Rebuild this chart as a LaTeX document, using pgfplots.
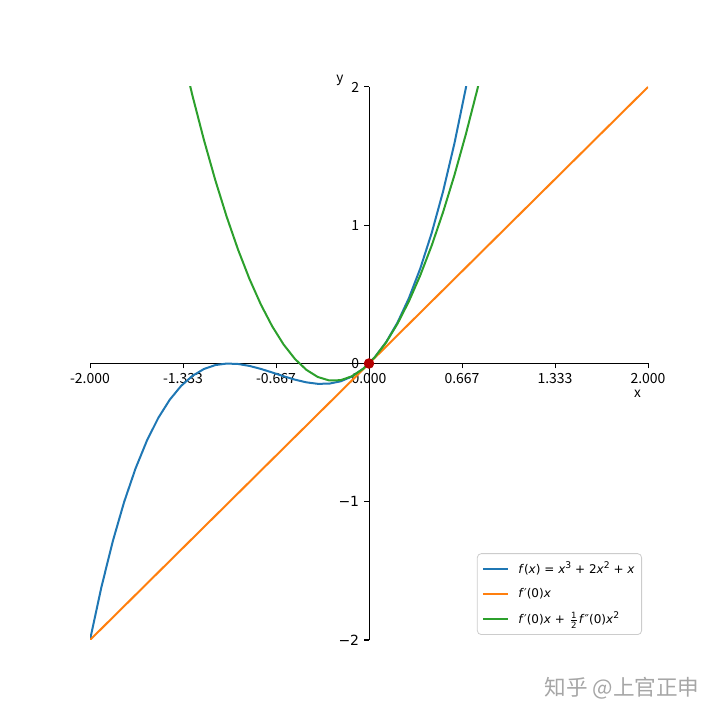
\documentclass[border=0pt]{standalone}
\usepackage{pgfplots}
\pgfplotsset{compat=1.18}
\usepackage{fontspec}
\setmainfont{Noto Sans CJK SC}
\newfontfamily\dejavu{DejaVu Sans}
\definecolor{tabblue}{HTML}{1F77B4}
\definecolor{taborange}{HTML}{FF7F0E}
\definecolor{tabgreen}{HTML}{2CA02C}
\definecolor{dotred}{HTML}{B40000}
\pgfplotstableread{
x f g
-2.000000 -2.000000 6.000000
-1.918367 -1.617946 5.441899
-1.836735 -1.285944 4.910454
-1.755102 -1.000722 4.405664
-1.673469 -0.759020 3.927530
-1.591837 -0.557574 3.476052
-1.510204 -0.393118 3.051229
-1.428571 -0.262391 2.653061
-1.346939 -0.162127 2.281550
-1.265306 -0.089062 1.936693
-1.183673 -0.039932 1.618492
-1.102041 -0.011475 1.326947
-1.020408 -0.000425 1.062057
-0.938776 -0.003519 0.823823
-0.857143 -0.017493 0.612245
-0.775510 -0.039082 0.427322
-0.693878 -0.065024 0.269054
-0.612245 -0.092053 0.137443
-0.530612 -0.116907 0.032486
-0.448980 -0.136321 -0.045814
-0.367347 -0.147031 -0.097459
-0.285714 -0.145773 -0.122449
-0.204082 -0.129283 -0.120783
-0.122449 -0.094297 -0.092462
-0.040816 -0.037552 -0.037484
0.040816 0.044216 0.044148
0.122449 0.154273 0.152437
0.204082 0.295880 0.287380
0.285714 0.472303 0.448980
0.367347 0.686806 0.637234
0.448980 0.942653 0.852145
0.530612 1.243105 1.093711
0.612245 1.591430 1.361933
0.693878 1.990888 1.656810
0.775510 2.444742 1.978343
0.857143 2.956268 2.326531
}\datatable
\newcommand{\iv}[1]{\textit{#1}}
\newcommand{\sups}[1]{\raisebox{0.45em}{\fontsize{4.6}{5}\selectfont #1}}
\newcommand{\half}{${\mbox{\dejavu\fontsize{4.3}{4.5}\selectfont 1}\above0.35pt\mbox{\dejavu\fontsize{4.3}{4.5}\selectfont 2}}$}
\begin{document}
\begin{tikzpicture}
\begin{axis}[
  name=ax,
  scale only axis,
  width=279pt, height=276.5pt,
  xmin=-2, xmax=2, ymin=-2, ymax=2,
  axis lines=middle,
  axis line style={-, line width=0.5pt, black},
  hide obscured x ticks=false,
  hide obscured y ticks=false,
  xtick={-2,-1.33333,-0.66667,0,0.66667,1.33333,2},
  xticklabels={-2.000,-1.333,-0.667,0.000,0.667,1.333,2.000},
  ytick={-2,-1,0,1,2},
  yticklabels={{\dejavu −2},{\dejavu −1},0,1,2},
  tick align=outside,
  major tick length=2.4pt,
  tick style={black, line width=0.5pt},
  tick label style={font=\fontsize{7}{8}\selectfont},
  xticklabel style={yshift=1pt},
  yticklabel style={xshift=1pt},
  xlabel={x}, ylabel={y},
  x label style={at={(axis description cs:1,0.5)}, anchor=north east, yshift=-10pt, font=\fontsize{6.8}{7.5}\selectfont},
  y label style={at={(axis description cs:0.5,1)}, anchor=center, xshift=-14.5pt, yshift=3.5pt, font=\fontsize{6.8}{7.5}\selectfont},
  legend style={at={(1,0)}, anchor=south east, xshift=-3pt, yshift=2.5pt,
    draw=black!20, rounded corners=2pt, font=\dejavu\fontsize{6}{7.5}\selectfont,
    inner xsep=2.5pt, inner ysep=3pt, row sep=3.6pt,
    nodes={inner sep=1pt}},
  legend cell align=left,
  legend image code/.code={\draw[#1, line width=1pt] (0pt,0pt) -- (12.5pt,0pt); \path (16pt,0pt);},
]
\addplot[tabblue, line width=1pt] table[x=x, y=f] {\datatable};
\addlegendentry{\iv{f}(\iv{x}) = \iv{x}\sups{3} + 2\iv{x}\sups{2} + \iv{x}}
\addplot[taborange, line width=1pt] coordinates {(-2,-2) (2,2)};
\addlegendentry{\iv{f}′(0)\iv{x}}
\addplot[tabgreen, line width=1pt] table[x=x, y=g] {\datatable};
\addlegendentry{\iv{f}′(0)\iv{x} + \half\iv{f}″(0)\iv{x}\sups{2}}
\addplot[only marks, mark=*, mark size=2.4pt, dotred, forget plot] coordinates {(0,0)};
\end{axis}
\path[use as bounding box] ([shift={(-45pt,-40pt)}]ax.south west) rectangle ([shift={(36pt,43.5pt)}]ax.north east);
\node[anchor=center, text=black!35, font=\fontsize{10.8}{12}\selectfont] at ([shift={(266pt,-24pt)}]ax.south west) {知乎 @上官正申};
\end{tikzpicture}
\end{document}
